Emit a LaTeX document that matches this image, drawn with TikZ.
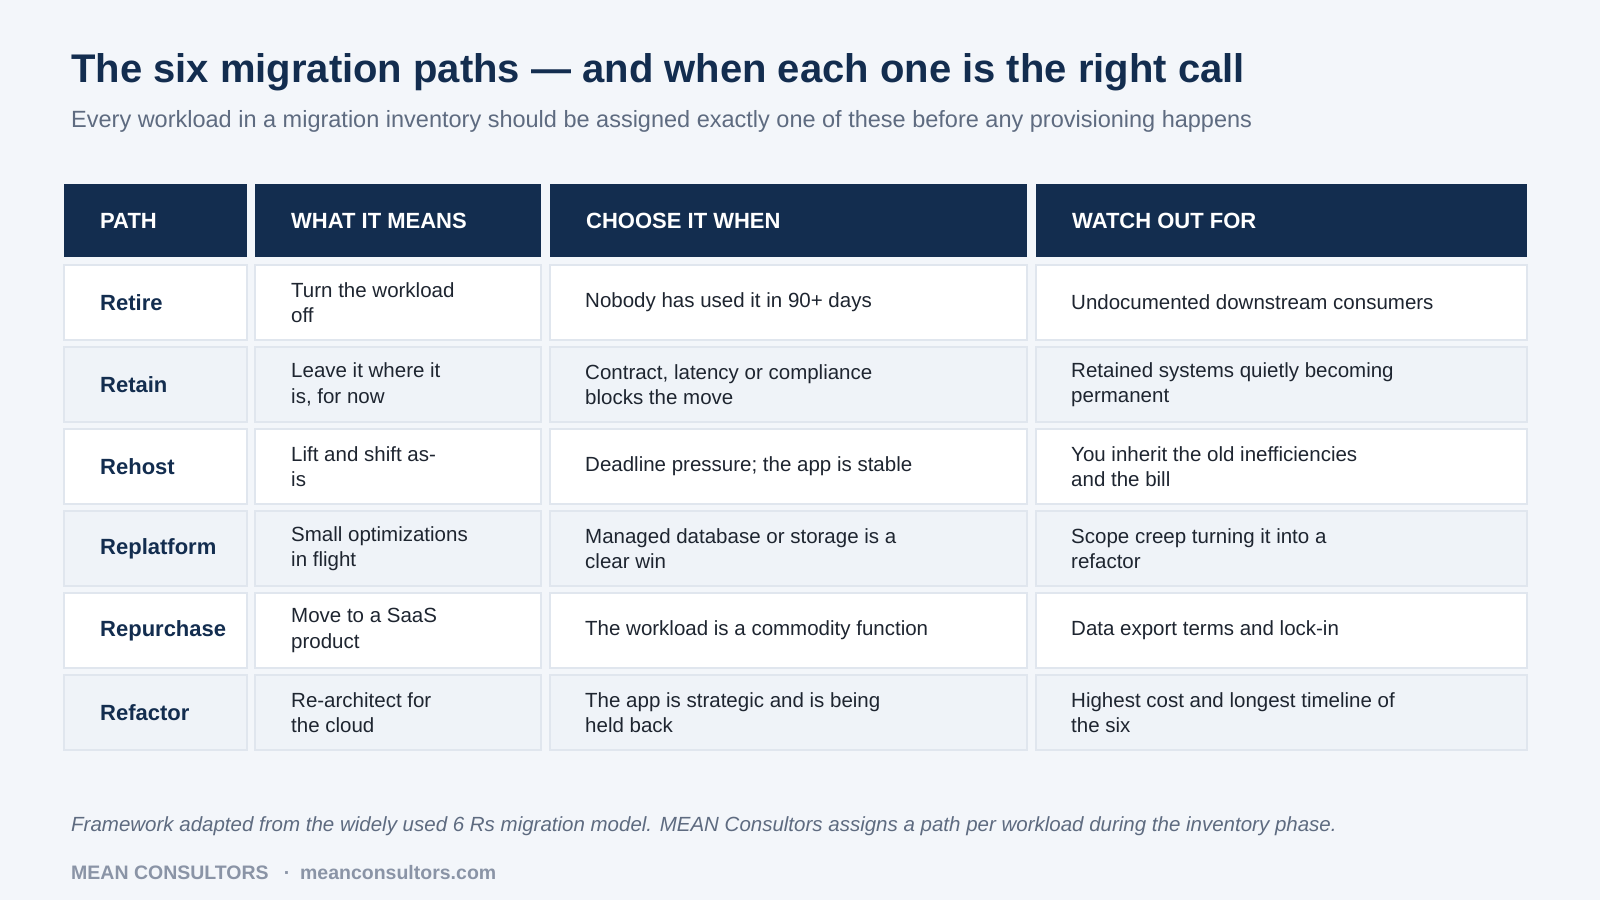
\documentclass[tikz,border=0pt]{standalone}
\usepackage{fontspec}
\setmainfont{Liberation Sans}
\definecolor{navy}{HTML}{132D4F}
\definecolor{bgc}{HTML}{F3F6FA}
\definecolor{rowalt}{HTML}{EFF3F8}
\definecolor{edgec}{HTML}{E0E6EE}
\definecolor{subc}{HTML}{5E6B80}
\definecolor{footc}{HTML}{8A94A6}
\definecolor{bodyc}{HTML}{1E2530}
\tikzset{
  cell/.style={draw=edgec, line width=1.5pt},
  head/.style={anchor=west, inner sep=0pt, text=white, font=\fontsize{22}{26}\selectfont\bfseries},
  txt/.style={anchor=west, inner sep=0pt, align=left, text=bodyc, font=\fontsize{20.5}{25.5}\selectfont},
  pathname/.style={anchor=west, inner sep=0pt, text=navy, font=\fontsize{22}{26}\selectfont\bfseries}
}
\begin{document}
\begin{tikzpicture}[x=1pt,y=-1pt]
  \fill[bgc] (0,0) rectangle (1600,900);
  \useasboundingbox (0,0) rectangle (1600,900);
  % title block
  \node[anchor=base west, inner sep=0pt, text=navy, font=\fontsize{40}{46}\selectfont\bfseries] (title) at (71,82) {The six migration paths — and when each one is the right call};
  \node[anchor=base west, inner sep=0pt, text=subc, font=\fontsize{23.5}{28}\selectfont] (sub) at (71,127) {Every workload in a migration inventory should be assigned exactly one of these before any provisioning happens};
  % header
  \foreach \xa/\xb/\lab [count=\i] in {64/247/PATH, 255/541/WHAT IT MEANS, 550/1027/CHOOSE IT WHEN, 1036/1527/WATCH OUT FOR}{
    \fill[navy] (\xa,184) rectangle (\xb,257);
    \node[head] (h\i) at (\xa+36,220.5) {\lab};
  }
  % rows
  \foreach \nm/\ma/\mb/\mc [count=\r] in {
      Retire/{Turn the workload\\off}/{Nobody has used it in 90+ days}/{Undocumented downstream consumers},
      Retain/{Leave it where it\\is, for now}/{Contract, latency or compliance\\blocks the move}/{Retained systems quietly becoming\\permanent},
      Rehost/{Lift and shift as-\\is}/{Deadline pressure; the app is stable}/{You inherit the old inefficiencies\\and the bill},
      Replatform/{Small optimizations\\in flight}/{Managed database or storage is a\\clear win}/{Scope creep turning it into a\\refactor},
      Repurchase/{Move to a SaaS\\product}/{The workload is a commodity function}/{Data export terms and lock-in},
      Refactor/{Re-architect for\\the cloud}/{The app is strategic and is being\\held back}/{Highest cost and longest timeline of\\the six}}{
    \pgfmathsetmacro{\ya}{265+82*(\r-1)}
    \pgfmathsetmacro{\yb}{\ya+75}
    \pgfmathsetmacro{\ym}{\ya+37.5}
    \ifodd\r \def\fc{white}\else\def\fc{rowalt}\fi
    \foreach \xa/\xb in {64/247, 255/541, 550/1027, 1036/1527}
      \filldraw[cell, fill=\fc] (\xa,\ya) rectangle (\xb,\yb);
    \node[pathname] (p\r) at (100,\ym) {\nm};
    \node[txt] (m\r) at (291,\ym) {\ma};
    \node[txt] (w\r) at (585,\ym) {\mb};
    \node[txt] (o\r) at (1071,\ym) {\mc};
  }
  % footnotes
  \node[anchor=base west, inner sep=0pt, text=subc, font=\fontsize{20.5}{24}\selectfont\itshape] (note) at (71,831) {Framework adapted from the widely used 6 Rs migration model. MEAN Consultors assigns a path per workload during the inventory phase.};
  \node[anchor=base west, inner sep=0pt, text=footc, font=\fontsize{19.5}{24}\selectfont\bfseries] (foot) at (71,879) {MEAN CONSULTORS \enspace·\enspace meanconsultors.com};
\end{tikzpicture}
\end{document}
